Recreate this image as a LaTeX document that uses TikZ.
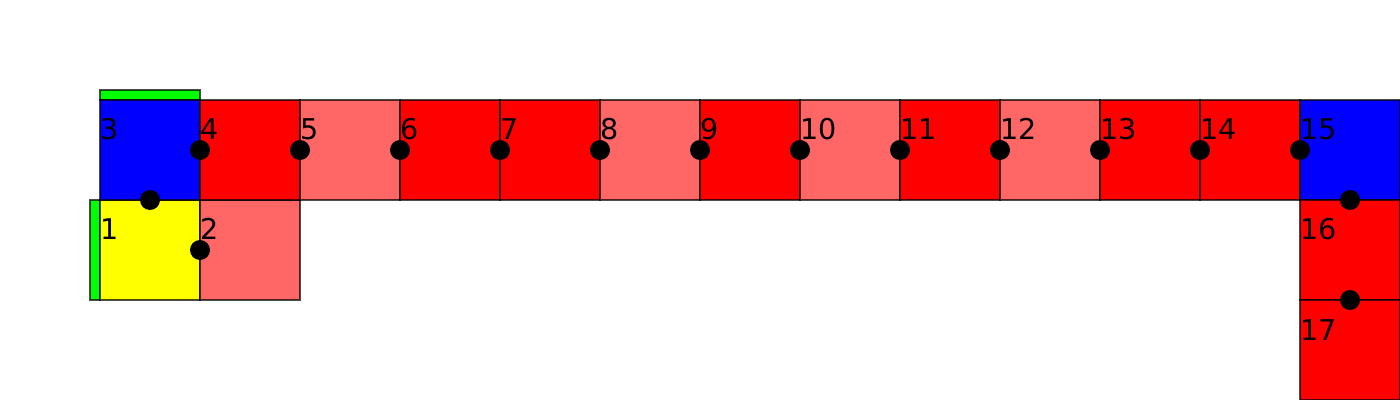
\documentclass[tikz,border=0pt]{standalone}
\usepackage{fontspec}
\setmainfont{DejaVu Sans}
\definecolor{lightred}{HTML}{FF6666}
\definecolor{pure}{HTML}{FF0000}
\definecolor{pblue}{HTML}{0000FF}
\definecolor{pyellow}{HTML}{FFFF00}
\definecolor{pgreen}{HTML}{00FF00}
\begin{document}
\begin{tikzpicture}[x=0.5pt,y=-0.5pt,
  sq/.style={draw=black,draw opacity=0.7,line width=0.55pt,minimum size=50pt,inner sep=0pt,outer sep=0pt,anchor=north west},
  lab/.style={inner sep=0pt,anchor=base west,font=\fontsize{14.3pt}{16pt}\selectfont},
  dot/.style={circle,fill=black,minimum size=10pt,inner sep=0pt},
  bar/.style={draw=black,draw opacity=0.7,line width=0.55pt,fill=pgreen,inner sep=0pt,outer sep=0pt,anchor=north west}]
\useasboundingbox (0,0) rectangle (1400,400);
% green bars
\node[bar,minimum width=50pt,minimum height=5pt] (g3) at (100,90) {};
\node[bar,minimum width=5pt,minimum height=50pt] (g1) at (90,200) {};
% squares
\node[sq,fill=pyellow] (s1) at (100,200) {};
\node[sq,fill=lightred] (s2) at (200,200) {};
\node[sq,fill=pblue] (s3) at (100,100) {};
\node[sq,fill=pure] (s4) at (200,100) {};
\node[sq,fill=lightred] (s5) at (300,100) {};
\node[sq,fill=pure] (s6) at (400,100) {};
\node[sq,fill=pure] (s7) at (500,100) {};
\node[sq,fill=lightred] (s8) at (600,100) {};
\node[sq,fill=pure] (s9) at (700,100) {};
\node[sq,fill=lightred] (s10) at (800,100) {};
\node[sq,fill=pure] (s11) at (900,100) {};
\node[sq,fill=lightred] (s12) at (1000,100) {};
\node[sq,fill=pure] (s13) at (1100,100) {};
\node[sq,fill=pure] (s14) at (1200,100) {};
\node[sq,fill=pblue] (s15) at (1300,100) {};
\node[sq,fill=pure] (s16) at (1300,200) {};
\node[sq,fill=pure] (s17) at (1300,300) {};
% labels
\node[lab] (l1) at (100,240) {1};
\node[lab] (l2) at (200,240) {2};
\node[lab] (l3) at (100,140) {3};
\node[lab] (l4) at (200,140) {4};
\node[lab] (l5) at (300,140) {5};
\node[lab] (l6) at (400,140) {6};
\node[lab] (l7) at (500,140) {7};
\node[lab] (l8) at (600,140) {8};
\node[lab] (l9) at (700,140) {9};
\node[lab] (l10) at (800,140) {10};
\node[lab] (l11) at (900,140) {11};
\node[lab] (l12) at (1000,140) {12};
\node[lab] (l13) at (1100,140) {13};
\node[lab] (l14) at (1200,140) {14};
\node[lab] (l15) at (1300,140) {15};
\node[lab] (l16) at (1300,240) {16};
\node[lab] (l17) at (1300,340) {17};
% dots
\node[dot] (d1) at (150,200) {};
\node[dot] (d2) at (200,250) {};
\foreach \i in {2,...,13}{
  \node[dot] (e\i) at ({100*\i},150) {};
}
\node[dot] (d16) at (1350,200) {};
\node[dot] (d17) at (1350,300) {};
\end{tikzpicture}
\end{document}
